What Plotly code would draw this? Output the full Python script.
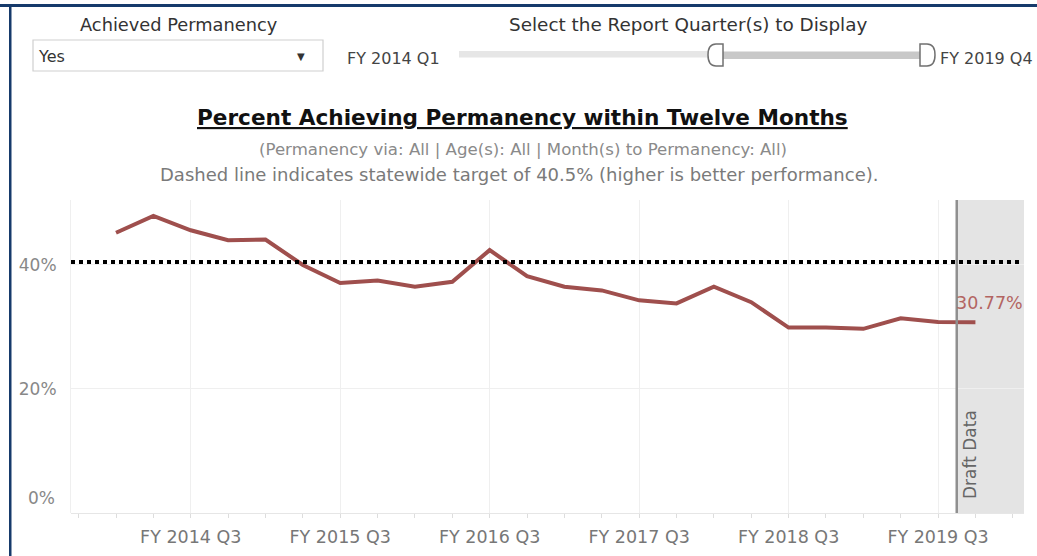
import plotly.graph_objects as go

# ---------------- data ----------------
quarters = [f"FY {y} Q{q}" for y in range(2014, 2020) for q in range(1, 5)]
pct_permanency = [45.2, 47.9, 45.6, 44.0, 44.1, 40.0, 37.1, 37.5, 36.5, 37.3,
                  42.4, 38.2, 36.5, 35.9, 34.3, 33.8, 36.5, 34.0, 29.9, 29.9,
                  29.7, 31.4, 30.8, 30.77]
x_tick_labels = ["FY 2014 Q3", "FY 2015 Q3", "FY 2016 Q3", "FY 2017 Q3",
                 "FY 2018 Q3", "FY 2019 Q3"]
y_tick_values = [0, 20, 40]
TARGET = 40.5
DRAFT_START = 22.5          # between FY 2019 Q3 and FY 2019 Q4
selected_from, selected_to = "FY 2014 Q1", "FY 2019 Q4"
achieved_choice = "Yes"

# ---------------- geometry ----------------
W, H = 1037, 556
L, R, T, B = 71, 13, 200, 43
PW, PH = W - L - R, H - T - B
X_RANGE = [-1.2045, 24.30]
Y_RANGE = [0, 50.48]

def px(x):
    return (x - L) / PW

def py(y):
    return (H - B - y) / PH

FONT = "DejaVu Sans"
LINE_COLOR = "#9f4f4d"

xs = list(range(len(quarters)))

fig = go.Figure()
fig.add_trace(go.Scatter(
    x=xs, y=pct_permanency, mode="lines",
    line=dict(color=LINE_COLOR, width=4),
    customdata=quarters,
    hovertemplate="%{customdata}: %{y:.2f}%<extra></extra>",
    showlegend=False,
))

shapes = []
# draft data band
shapes.append(dict(type="rect", xref="x", yref="paper", x0=DRAFT_START, x1=X_RANGE[1],
                   y0=0, y1=1, fillcolor="#e4e4e4", line=dict(width=0), layer="below"))
shapes.append(dict(type="line", xref="x", yref="paper", x0=DRAFT_START, x1=DRAFT_START,
                   y0=0, y1=1, line=dict(color="#8f8f8f", width=2.5)))
# target line
shapes.append(dict(type="line", xref="paper", yref="y", x0=0, x1=px(1021),
                   y0=TARGET, y1=TARGET, line=dict(color="black", width=4, dash="4px,4px")))

# frame borders
shapes.append(dict(type="rect", xref="paper", yref="paper", x0=px(0), x1=px(W),
                   y0=py(4), y1=py(7), fillcolor="#163a6b", line=dict(width=0)))
shapes.append(dict(type="rect", xref="paper", yref="paper", x0=px(9), x1=px(11.5),
                   y0=py(4), y1=py(H + 2), fillcolor="#163a6b", line=dict(width=0)))

# dropdown box
shapes.append(dict(type="rect", xref="paper", yref="paper", x0=px(33), x1=px(323),
                   y0=py(71), y1=py(40), fillcolor="white",
                   line=dict(color="#cfcfcf", width=1.2)))
# slider tracks
shapes.append(dict(type="rect", xref="paper", yref="paper", x0=px(459), x1=px(712),
                   y0=py(57.5), y1=py(51), fillcolor="#e6e6e6", line=dict(width=0)))
shapes.append(dict(type="rect", xref="paper", yref="paper", x0=px(722), x1=px(922),
                   y0=py(59), y1=py(51.5), fillcolor="#c8c8c8", line=dict(width=0)))

def fmt(x, y):
    return f"{px(x):.5f},{py(y):.5f}"

left_handle = (f"M {fmt(723,44)} L {fmt(716,44)} Q {fmt(708,44)} {fmt(708,55)} "
               f"Q {fmt(708,66)} {fmt(716,66)} L {fmt(723,66)} Z")
right_handle = (f"M {fmt(920,44)} L {fmt(927,44)} Q {fmt(935,44)} {fmt(935,55)} "
                f"Q {fmt(935,66)} {fmt(927,66)} L {fmt(920,66)} Z")
for p in (left_handle, right_handle):
    shapes.append(dict(type="path", xref="paper", yref="paper", path=p,
                       fillcolor="white", line=dict(color="#707070", width=1.5)))

annotations = []
def text(x, y, s, size, color, xanchor="center", **kw):
    annotations.append(dict(xref="paper", yref="paper", x=px(x), y=py(y), text=s,
                            showarrow=False, xanchor=xanchor, yanchor="middle",
                            font=dict(family=FONT, size=size, color=color), **kw))

# header controls
text(178, 24, "Achieved Permanency", 17.8, "#333333")
text(36, 57, achieved_choice, 16, "#333333", xanchor="left")
text(301, 56, "▼", 10, "#333333")
text(345, 58, selected_from, 16, "#444444", xanchor="left")
text(688, 24, "Select the Report Quarter(s) to Display", 18.4, "#333333")
text(938, 58, selected_to, 16, "#444444", xanchor="left")

# titles
text(522, 117, "<b><u>Percent Achieving Permanency within Twelve Months</u></b>", 21.6, "#111111")
text(523, 149, "(Permanency via: All | Age(s): All | Month(s) to Permanency: All)", 16.6, "#8a8a8a")
text(519, 174, f"Dashed line indicates statewide target of {TARGET}% (higher is better performance).",
     18, "#7a7a7a")

# 0% label (Tableau pushes it up inside the pane)
annotations.append(dict(xref="paper", yref="y", x=px(57), y=0, text="0%", showarrow=False,
                        xanchor="right", yanchor="middle", yshift=15,
                        font=dict(family=FONT, size=17, color="#888888")))
# last-value label
annotations.append(dict(xref="x", yref="y", x=xs[-1], y=pct_permanency[-1],
                        text=f"{pct_permanency[-1]:.2f}%", showarrow=False,
                        xanchor="center", yanchor="middle", xshift=14, yshift=19,
                        font=dict(family=FONT, size=17.5, color="#b36462")))
# draft data label
annotations.append(dict(xref="paper", yref="paper", x=px(970), y=py(455), text="Draft Data",
                        showarrow=False, textangle=-90, xanchor="center", yanchor="middle",
                        font=dict(family=FONT, size=17, color="#666666")))

fig.update_layout(
    width=W, height=H, autosize=False,
    margin=dict(l=L, r=R, t=T, b=B, pad=0, autoexpand=False),
    paper_bgcolor="white", plot_bgcolor="white",
    shapes=shapes, annotations=annotations,
    font=dict(family=FONT),
    xaxis=dict(
        range=X_RANGE, tickmode="array", automargin=False,
        tickvals=[quarters.index(l) for l in x_tick_labels], ticktext=x_tick_labels,
        showgrid=True, gridcolor="#efefef", gridwidth=1,
        ticks="outside", ticklen=4, tickcolor="#dddddd",
        minor=dict(tick0=0, dtick=1, ticks="outside", ticklen=4, tickcolor="#dddddd",
                   showgrid=False),
        tickfont=dict(family=FONT, size=17.5, color="#777777"),
        ticklabelstandoff=4,
        zeroline=False, showline=False, fixedrange=True,
    ),
    yaxis=dict(
        range=Y_RANGE, tickmode="array", automargin=False, tickvals=y_tick_values,
        ticktext=["" if v == 0 else f"{v}%" for v in y_tick_values],
        showgrid=True, gridcolor="#efefef", gridwidth=1,
        zeroline=True, zerolinecolor="#e6e6e6", zerolinewidth=1,
        showline=True, linecolor="#efefef", linewidth=1,
        ticks="", tickfont=dict(family=FONT, size=17, color="#888888"),
        ticklabelstandoff=10, fixedrange=True,
    ),
)

fig.write_html("out.html", config={"displayModeBar": False},
               post_script="document.body.style.margin='0px';")
